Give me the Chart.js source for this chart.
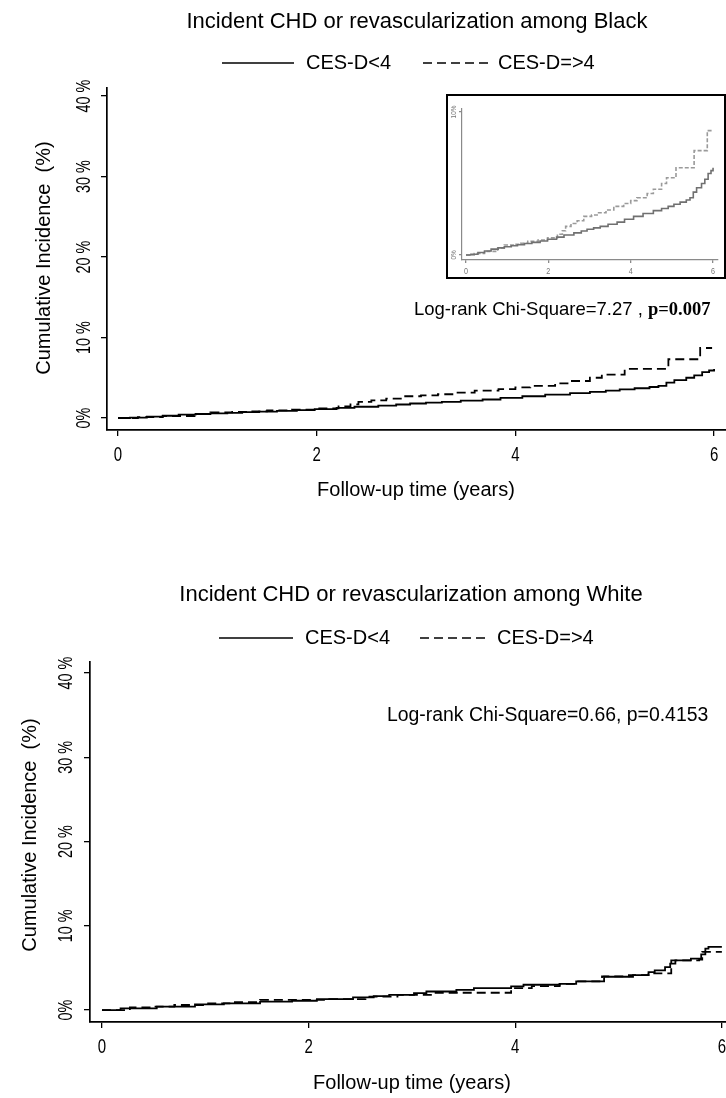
<!DOCTYPE html>
<html>
<head>
<meta charset="utf-8">
<script src="https://cdn.jsdelivr.net/npm/chart.js@4.4.1/dist/chart.umd.min.js"></script>
<style>
body { margin: 0; background: #fff; }
#page { position: relative; width: 726px; height: 1098px; overflow: hidden; background: #fff; }
canvas { position: absolute; display: block; }
#insetBox { position: absolute; left: 446px; top: 94px; width: 276px; height: 181px; border: 2px solid #000; background: #fff; }
</style>
</head>
<body>
<div id="page">
  <canvas id="black" width="726" height="549" style="left:0;top:0"></canvas>
  <canvas id="white" width="726" height="549" style="left:0;top:549px"></canvas>
  <div id="insetBox"><canvas id="blackInset" width="276" height="181" style="left:0;top:0"></canvas></div>
</div>
<script>
// values (years, cumulative %)
const seriesLabels = ['CES-D<4', 'CES-D=>4'];
const xTicks = [0, 2, 4, 6];
const yTicks = [0, 10, 20, 30, 40];
const insetYTicks = [0, 10];

const blackLowTime = [0, 0.12, 0.29, 0.45, 0.61, 0.78, 0.93, 1.1, 1.25, 1.42, 1.6, 1.8, 1.98, 2.2, 2.38, 2.62, 2.8, 2.94, 3.1, 3.26, 3.45, 3.67, 3.85, 4.07, 4.3, 4.55, 4.75, 4.91, 5.05, 5.2, 5.35, 5.44, 5.52, 5.6, 5.72, 5.8, 5.88, 5.95, 6.0];
const blackLowPct = [0, 0.05, 0.17, 0.28, 0.41, 0.5, 0.58, 0.65, 0.72, 0.8, 0.88, 0.98, 1.1, 1.25, 1.4, 1.55, 1.68, 1.8, 1.9, 2.0, 2.15, 2.3, 2.5, 2.7, 2.9, 3.1, 3.25, 3.4, 3.55, 3.7, 3.85, 4.0, 4.4, 4.7, 5.0, 5.3, 5.7, 5.9, 6.1];
const blackHighTime = [0, 0.2, 0.45, 0.77, 0.93, 1.15, 1.33, 1.5, 1.75, 1.98, 2.22, 2.34, 2.42, 2.55, 2.7, 2.86, 3.05, 3.22, 3.4, 3.59, 3.83, 4.0, 4.15, 4.4, 4.55, 4.75, 4.87, 5.1, 5.54, 5.86, 5.98];
const blackHighPct = [0, 0.1, 0.25, 0.5, 0.7, 0.75, 0.82, 0.95, 1.05, 1.2, 1.45, 1.7, 2.0, 2.2, 2.4, 2.7, 2.8, 2.95, 3.15, 3.4, 3.6, 3.8, 4.0, 4.3, 4.6, 5.0, 5.4, 6.1, 7.3, 8.7, 8.7];

const whiteLowTime = [0, 0.18, 0.53, 0.9, 1.18, 1.53, 1.84, 2.08, 2.43, 2.63, 2.78, 3.02, 3.14, 3.43, 3.6, 3.96, 4.08, 4.43, 4.59, 4.86, 5.14, 5.29, 5.35, 5.45, 5.5, 5.55, 5.7, 5.8, 5.84, 5.87, 6.0];
const whiteLowPct = [0, 0.2, 0.4, 0.67, 0.8, 1.0, 1.1, 1.3, 1.5, 1.66, 1.8, 2.0, 2.2, 2.4, 2.6, 2.8, 3.0, 3.1, 3.4, 3.95, 4.15, 4.5, 4.7, 5.1, 5.5, 5.9, 6.1, 6.6, 7.3, 7.5, 7.5];
const whiteHighTime = [0, 0.27, 0.5, 0.7, 1.0, 1.25, 1.53, 2.2, 2.55, 2.86, 3.2, 3.96, 4.16, 4.43, 4.59, 4.84, 5.1, 5.29, 5.51, 5.78, 5.81, 6.0];
const whiteHighPct = [0, 0.3, 0.4, 0.6, 0.8, 0.95, 1.2, 1.3, 1.6, 1.8, 2.05, 2.6, 2.85, 3.1, 3.4, 4.0, 4.15, 4.35, 5.9, 6.0, 6.9, 6.9];

const SANS = "'Liberation Sans', Arial, sans-serif";
const SERIF = "'Liberation Serif', 'Times New Roman', serif";

function toPts(t, p) {
    return t.map(function(v, i) { return { x: v, y: p[i] }; });
}

// draws one piece of text, optionally rotated / squeezed sideways
function drawText(ctx, t) {
    ctx.save();
    ctx.translate(t.x, t.y);
    if (t.rot) ctx.rotate(t.rot);
    if (t.sx) ctx.scale(t.sx, 1);
    ctx.font = t.font;
    ctx.fillStyle = t.color || '#000';
    ctx.textAlign = t.align || 'center';
    ctx.textBaseline = 'middle';
    ctx.fillText(t.text, 0, 0);
    ctx.restore();
}

const decor = {
    id: 'decor',
    afterDraw(chart, args, opts) {
        const ctx = chart.ctx;
        const xs = chart.scales.x;
        const ys = chart.scales.y;
        (opts.texts || []).forEach(function(t) { drawText(ctx, t); });

        // text made of pieces in different fonts, laid one after another
        (opts.runs || []).forEach(function(r) {
            let x = r.x;
            r.parts.forEach(function(p) {
                ctx.font = p.font;
                drawText(ctx, { text: p.text, x: x, y: r.y, font: p.font, align: 'left' });
                ctx.font = p.font;
                x += ctx.measureText(p.text).width;
            });
        });

        // legend keys take their dash from the datasets
        (opts.keys || []).forEach(function(k, i) {
            const ds = chart.data.datasets[i];
            ctx.save();
            ctx.strokeStyle = '#000';
            ctx.lineWidth = 1.5;
            ctx.setLineDash(ds.borderDash || []);
            ctx.beginPath();
            ctx.moveTo(k.x0, k.y);
            ctx.lineTo(k.x1, k.y);
            ctx.stroke();
            ctx.restore();
            drawText(ctx, { text: ds.label, x: k.tx, y: k.y, font: opts.keyFont, align: 'left' });
        });

        if (opts.xLab) {
            xTicks.forEach(function(v) {
                drawText(ctx, { text: String(v), x: xs.getPixelForValue(v), y: opts.xLab.y, font: opts.xLab.font, sx: opts.xLab.sx, color: opts.xLab.color });
            });
        }
        if (opts.yLab) {
            opts.yLab.ticks.forEach(function(v) {
                const txt = v === 0 ? '0%' : v + opts.yLab.sep + '%';
                drawText(ctx, { text: txt, x: opts.yLab.x, y: ys.getPixelForValue(v), rot: -Math.PI / 2, font: opts.yLab.font, sx: opts.yLab.sx, color: opts.yLab.color });
            });
        }
    }
};

function makeChart(id, low, high, cfg) {
    return new Chart(document.getElementById(id), {
        type: 'line',
        data: {
            datasets: [
                { label: seriesLabels[0], data: low, stepped: true, borderColor: cfg.lowColor, borderWidth: cfg.lw, pointRadius: 0, fill: false },
                { label: seriesLabels[1], data: high, stepped: true, borderColor: cfg.highColor, borderWidth: cfg.lw, borderDash: cfg.dash, pointRadius: 0, fill: false }
            ]
        },
        options: {
            responsive: false,
            animation: false,
            events: [],
            layout: { padding: { top: cfg.top, right: cfg.right, bottom: 0, left: 0 } },
            plugins: {
                legend: { display: false },
                title: { display: false },
                tooltip: { enabled: false },
                decor: cfg.decor
            },
            scales: {
                x: {
                    type: 'linear',
                    min: cfg.xMin, max: cfg.xMax,
                    border: { color: cfg.axisColor, width: cfg.axisW },
                    grid: { drawOnChartArea: false, tickLength: cfg.tick, color: cfg.axisColor, lineWidth: 1.3 },
                    ticks: { display: false },
                    afterBuildTicks: function(s) { s.ticks = xTicks.map(function(v) { return { value: v }; }); },
                    afterFit: function(s) { s.height = cfg.xAxisH; s.paddingLeft = 0; s.paddingRight = 0; }
                },
                y: {
                    type: 'linear',
                    min: cfg.yMin, max: cfg.yMax,
                    border: { color: cfg.axisColor, width: cfg.axisW },
                    grid: { drawOnChartArea: false, tickLength: cfg.tick, color: cfg.axisColor, lineWidth: 1.3 },
                    ticks: { display: false },
                    afterBuildTicks: function(s) { s.ticks = cfg.yTicks.map(function(v) { return { value: v }; }); },
                    afterFit: function(s) { s.width = cfg.yAxisW; s.paddingTop = 0; s.paddingBottom = 0; }
                }
            }
        },
        plugins: [decor]
    });
}

// Black panel
makeChart('black', toPts(blackLowTime, blackLowPct), toPts(blackHighTime, blackHighPct), {
    lowColor: '#000', highColor: '#000', lw: 1.8, dash: [9, 5],
    top: 88, right: 0, xAxisH: 119, yAxisW: 107,
    xMin: -0.111, xMax: 6.12, yMin: -1.49, yMax: 41.0, yTicks: yTicks,
    axisColor: '#000', axisW: 1.7, tick: 6,
    decor: {
        texts: [
            { text: 'Incident CHD or revascularization among Black', x: 417, y: 22, font: '22px ' + SANS },
            { text: 'Follow-up time (years)', x: 416, y: 490, font: '20px ' + SANS },
            { text: 'Cumulative Incidence  (%)', x: 44, y: 258, rot: -Math.PI / 2, font: '20px ' + SANS }
        ],
        runs: [
            { x: 414, y: 310, parts: [
                { text: 'Log-rank Chi-Square=7.27 , ', font: '18.5px ' + SANS },
                { text: 'p=0.007', font: 'bold 18.5px ' + SERIF }
            ] }
        ],
        keys: [
            { x0: 222, x1: 294, tx: 306, y: 63 },
            { x0: 423, x1: 489, tx: 498, y: 63 }
        ],
        keyFont: '20px ' + SANS,
        xLab: { y: 455, font: '20px ' + SANS, sx: 0.75 },
        yLab: { x: 84, ticks: yTicks, sep: ' ', font: '20px ' + SANS, sx: 0.72 }
    }
});

// zoomed inset of the Black panel
makeChart('blackInset', toPts(blackLowTime, blackLowPct), toPts(blackHighTime, blackHighPct), {
    lowColor: '#707070', highColor: '#9a9a9a', lw: 1.6, dash: [4, 2],
    top: 13, right: 6, xAxisH: 17, yAxisW: 14,
    xMin: -0.097, xMax: 6.12, yMin: -0.35, yMax: 10.21, yTicks: insetYTicks,
    axisColor: '#8a8a8a', axisW: 1.2, tick: 3,
    decor: {
        texts: [],
        keys: [],
        xLab: { y: 176, font: '9px ' + SANS, sx: 0.8, color: '#777' },
        yLab: { x: 6, ticks: insetYTicks, sep: '', font: '8px ' + SANS, sx: 0.8, color: '#777' }
    }
});

// White panel
makeChart('white', toPts(whiteLowTime, whiteLowPct), toPts(whiteHighTime, whiteHighPct), {
    lowColor: '#000', highColor: '#000', lw: 1.8, dash: [9, 5],
    top: 113, right: 0, xAxisH: 76, yAxisW: 90,
    xMin: -0.116, xMax: 6.04, yMin: -1.42, yMax: 41.31, yTicks: yTicks,
    axisColor: '#000', axisW: 1.7, tick: 6,
    decor: {
        texts: [
            { text: 'Incident CHD or revascularization among White', x: 411, y: 46, font: '22px ' + SANS },
            { text: 'Follow-up time (years)', x: 412, y: 534, font: '20px ' + SANS },
            { text: 'Cumulative Incidence  (%)', x: 30, y: 286, rot: -Math.PI / 2, font: '20px ' + SANS }
        ],
        runs: [
            { x: 387, y: 167, parts: [
                { text: 'Log-rank Chi-Square=0.66, p=0.4153', font: '19.4px ' + SANS }
            ] }
        ],
        keys: [
            { x0: 219, x1: 293, tx: 305, y: 89 },
            { x0: 420, x1: 486, tx: 497, y: 89 }
        ],
        keyFont: '20px ' + SANS,
        xLab: { y: 498, font: '20px ' + SANS, sx: 0.75 },
        yLab: { x: 66, ticks: yTicks, sep: ' ', font: '20px ' + SANS, sx: 0.72 }
    }
});
</script>
</body>
</html>
